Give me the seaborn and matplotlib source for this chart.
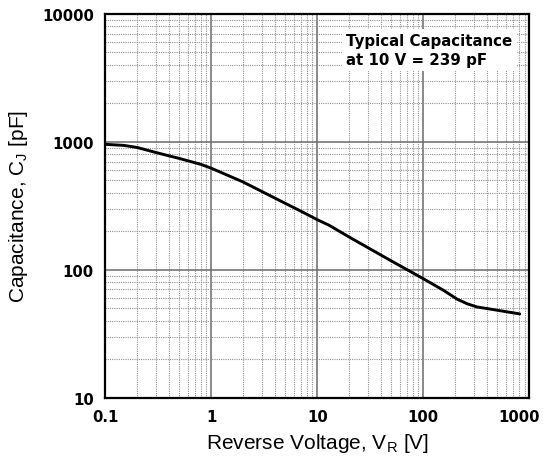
import numpy as np
import pandas as pd
import matplotlib
matplotlib.use("Agg")
import matplotlib.pyplot as plt
import matplotlib.transforms as mtransforms
from matplotlib.ticker import LogLocator, FixedLocator, NullFormatter
import seaborn as sns

# ---- data ----
voltage = [0.1, 0.15, 0.2, 0.3, 0.5, 0.8, 1, 2, 5, 7, 10, 13, 20, 50, 100, 155, 207, 258, 321, 461, 811]
capacitance = [955, 937, 903, 825, 741, 666, 622, 485, 330, 287, 246, 222, 180, 117, 85, 69, 59, 54.2, 51.1, 48.7, 45.1]
x_ticks = [0.1, 1, 10, 100, 1000]
x_tick_labels = ["0.1", "1", "10", "100", "1000"]
y_ticks = [10, 100, 1000, 10000]
y_tick_labels = ["10", "100", "1000", "10000"]
note_text = "Typical Capacitance\nat 10 V = 239 pF"
x_label = r"Reverse Voltage, V$_\mathregular{R}$ [V]"
y_label = r"Capacitance, C$_\mathregular{J}$ [pF]"

df = pd.DataFrame({"V": voltage, "C": capacitance})

sns.set_style("white")
plt.rcParams["font.family"] = ["DejaVu Sans"]
plt.rcParams["text.color"] = "black"
plt.rcParams["axes.labelcolor"] = "black"
plt.rcParams["xtick.color"] = "black"
plt.rcParams["ytick.color"] = "black"

fig = plt.figure(figsize=(5.43, 4.64), dpi=100)
ax = fig.add_axes([0.1934, 0.141, 0.7815, 0.827])

sns.lineplot(data=df, x="V", y="C", ax=ax, color="black", linewidth=2.1, zorder=5)

ax.set_xscale("log")
ax.set_yscale("log")
ax.set_xlim(0.1, 1000)
ax.set_ylim(10, 10000)

ax.xaxis.set_major_locator(FixedLocator(x_ticks))
ax.yaxis.set_major_locator(FixedLocator(y_ticks))
ax.set_xticklabels(x_tick_labels)
ax.set_yticklabels(y_tick_labels)
ax.xaxis.set_minor_locator(LogLocator(base=10, subs=np.arange(2, 10), numticks=20))
ax.yaxis.set_minor_locator(LogLocator(base=10, subs=np.arange(2, 10), numticks=20))
ax.xaxis.set_minor_formatter(NullFormatter())
ax.yaxis.set_minor_formatter(NullFormatter())

ax.grid(which="major", color="#6a6a6a", linewidth=1.1, linestyle="-", zorder=1)
ax.grid(which="minor", color="#909090", linewidth=0.8, linestyle=(0, (1, 1)), zorder=1)
ax.set_axisbelow(True)

ax.tick_params(which="both", length=0, labelcolor="black")
ax.tick_params(axis="x", which="major", pad=8, labelsize=10.7)
ax.tick_params(axis="y", which="major", pad=8, labelsize=10.7)
for lbl in ax.get_xticklabels() + ax.get_yticklabels():
    lbl.set_fontweight("bold")

# shift last x label left so it stays inside the figure
last = ax.get_xticklabels()[-1]
last.set_transform(last.get_transform() + mtransforms.ScaledTranslation(-10 / 100, 0, fig.dpi_scale_trans))

for s in ax.spines.values():
    s.set_visible(True)
    s.set_color("black")
    s.set_linewidth(1.6)

ax.set_xlabel(x_label, fontsize=15, labelpad=5, color="black", family=["Liberation Sans", "DejaVu Sans"])
ax.set_ylabel(y_label, fontsize=15, labelpad=9, color="black", family=["Liberation Sans", "DejaVu Sans"])

ax.text(0.568, 0.906, note_text, transform=ax.transAxes, ha="left", va="center",
        fontsize=10.8, fontweight="bold", linespacing=1.3, zorder=6, color="black",
        bbox=dict(facecolor="white", edgecolor="none", boxstyle="square,pad=0.3"))

fig.savefig("out.png", dpi=100)
